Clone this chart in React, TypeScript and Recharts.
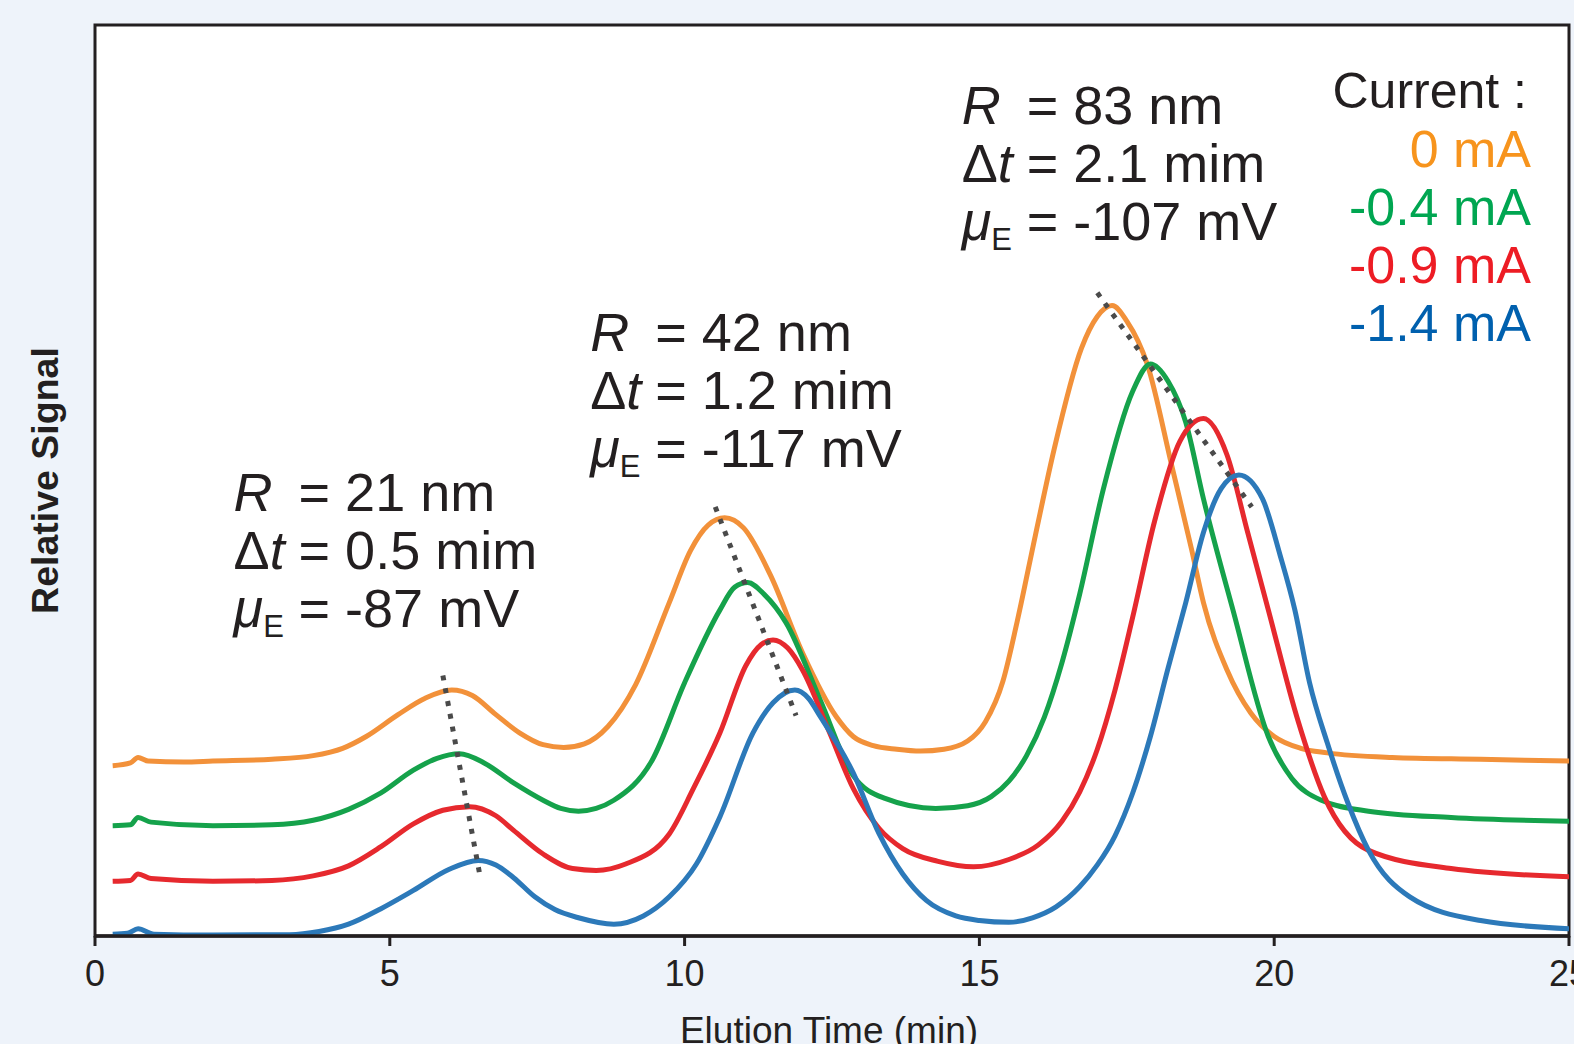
import { LineChart, Line, XAxis, YAxis, CartesianGrid, ReferenceLine, ReferenceArea, ReferenceDot, Legend } from 'recharts';

const FONT = '"Liberation Sans", Arial, Helvetica, sans-serif';
const INK = '#231f20';
const PAGE_BG = '#eef3fa';

// elution time (min), relative signal (0-100, offset traces as published)
const elutionTicks = [0, 5, 10, 15, 20, 25];

const trace0mA: [number, number][] = [
  [0.3, 18.7], [0.6, 19.0], [0.73, 19.6], [0.9, 19.2], [1.5, 19.1], [2.0, 19.2],
  [3.0, 19.4], [3.7, 19.8], [4.2, 20.6], [4.6, 21.9], [5.14, 24.3], [5.6, 26.1],
  [6.05, 27.0], [6.4, 26.4], [6.8, 24.3], [7.2, 22.3], [7.6, 21.0], [7.95, 20.7],
  [8.3, 21.1], [8.7, 23.0], [9.17, 27.6], [9.74, 36.6], [10.1, 42.3], [10.4, 45.1],
  [10.68, 45.9], [11.0, 44.8], [11.45, 39.7], [12.0, 31.1], [12.57, 24.1], [12.86, 21.9],
  [13.2, 20.9], [13.6, 20.5], [14.0, 20.3], [14.4, 20.5], [14.8, 21.4], [15.1, 23.5],
  [15.4, 28.0], [15.64, 34.5], [15.95, 44.0], [16.27, 53.5], [16.73, 64.5], [17.0, 68.0],
  [17.25, 69.2], [17.5, 67.5], [17.85, 62.7], [18.26, 51.7], [18.6, 42.4], [18.8, 36.6],
  [19.2, 29.2], [19.6, 24.5], [20.0, 21.9], [20.45, 20.6], [20.9, 20.1], [22.0, 19.6],
  [23.5, 19.4], [25.0, 19.2],
];

const traceM04mA: [number, number][] = [
  [0.3, 12.1], [0.6, 12.2], [0.73, 13.0], [0.95, 12.5], [2.0, 12.1], [3.0, 12.2],
  [3.7, 12.7], [4.3, 13.9], [4.85, 15.7], [5.4, 18.2], [5.8, 19.5], [6.18, 20.0],
  [6.6, 19.0], [7.1, 16.8], [7.6, 14.9], [7.9, 14.0], [8.2, 13.7], [8.5, 14.0],
  [8.8, 14.9], [9.45, 19.3], [10.0, 27.8], [10.6, 35.8], [10.85, 38.3], [11.07, 38.8],
  [11.35, 37.5], [11.72, 34.4], [12.3, 25.9], [12.86, 17.6], [13.4, 15.1], [14.26, 14.0],
  [14.8, 14.3], [15.2, 15.3], [15.5, 17.0], [15.8, 19.8], [16.1, 24.0], [16.4, 30.0],
  [16.7, 37.5], [17.1, 49.0], [17.6, 59.8], [17.9, 62.8], [18.2, 60.9], [18.5, 56.4],
  [18.8, 48.0], [19.3, 35.8], [19.9, 21.9], [20.3, 17.3], [20.8, 14.9], [21.6, 13.7],
  [23.0, 13.0], [25.0, 12.6],
];

const traceM09mA: [number, number][] = [
  [0.3, 6.0], [0.6, 6.1], [0.73, 6.8], [0.95, 6.3], [2.0, 6.0], [3.0, 6.1],
  [3.7, 6.6], [4.3, 7.7], [4.85, 9.8], [5.4, 12.3], [5.9, 13.8], [6.35, 14.2],
  [6.8, 13.2], [7.1, 11.6], [7.6, 9.0], [8.1, 7.4], [8.5, 7.2], [9.0, 7.9],
  [9.74, 11.2], [10.15, 16.2], [10.6, 22.3], [11.04, 29.7], [11.3, 32.0], [11.5, 32.5],
  [11.75, 31.6], [12.0, 29.2], [12.46, 22.3], [12.86, 16.2], [13.3, 11.8], [13.7, 9.6],
  [14.3, 8.2], [14.9, 7.6], [15.5, 8.4], [16.0, 10.0], [16.4, 12.6], [16.7, 15.8],
  [17.0, 20.5], [17.3, 27.0], [17.6, 35.0], [17.97, 45.5], [18.4, 54.3], [18.8, 56.8],
  [19.2, 52.8], [19.55, 44.3], [19.9, 35.8], [20.4, 23.7], [20.85, 15.3], [21.6, 9.4],
  [23.0, 7.4], [25.0, 6.5],
];

const traceM14mA: [number, number][] = [
  [0.3, 0.2], [0.55, 0.3], [0.73, 0.8], [1.0, 0.2], [2.0, 0.1], [3.3, 0.15],
  [3.8, 0.5], [4.3, 1.3], [4.85, 3.0], [5.4, 5.0], [6.0, 7.3], [6.5, 8.3],
  [6.8, 7.8], [7.1, 6.4], [7.46, 4.3], [7.8, 2.9], [8.2, 2.0], [8.8, 1.3],
  [9.3, 2.2], [9.74, 4.3], [10.2, 7.9], [10.6, 13.1], [11.16, 22.3], [11.5, 25.6],
  [11.87, 27.0], [12.1, 26.1], [12.3, 24.1], [12.86, 17.9], [13.3, 11.2], [13.7, 6.8],
  [14.1, 3.9], [14.6, 2.2], [15.0, 1.7], [15.5, 1.5], [15.9, 2.0], [16.3, 3.2],
  [16.7, 5.4], [17.0, 7.8], [17.3, 11.0], [17.6, 15.7], [17.9, 21.9], [18.2, 29.4],
  [18.5, 36.6], [18.8, 44.3], [19.1, 49.1], [19.4, 50.6], [19.8, 48.0], [20.1, 41.8],
  [20.35, 35.8], [20.6, 27.8], [20.9, 21.2], [21.25, 14.6], [21.6, 9.4], [22.3, 4.3],
  [23.5, 1.7], [25.0, 0.8],
];

const currentLabels = ['0 mA', '-0.4 mA', '-0.9 mA', '-1.4 mA'];

// peak-shift guide lines: [start, end] as [time, signal]
const peakShiftLines: [number, number][][] = [
  [[5.9, 28.6], [6.53, 6.6]],
  [[10.52, 47.1], [11.89, 24.2]],
  [[17.0, 70.6], [19.62, 47.1]],
];

const peakRadius = ['21 nm', '42 nm', '83 nm'];
const peakDeltaT = ['0.5 mim', '1.2 mim', '2.1 mim'];
const peakMobility = ['-87 mV', '-117 mV', '-107 mV'];

const noteAnchors: [number, number][] = [[2.35, 46.7], [8.4, 64.2], [14.7, 89.1]];

const traceColors = ['#f2913a', '#15a24b', '#e6292e', '#2c79b9'];
const labelColors = ['#f7941d', '#00a651', '#ed1c24', '#0060ae'];

const toRows = (pts: [number, number][]) => pts.map(([t, v]) => ({ t, v }));

const SERIES = [trace0mA, traceM04mA, traceM09mA, traceM14mA].map((pts, i) => ({
  name: currentLabels[i],
  rows: toRows(pts),
  stroke: traceColors[i],
  text: labelColors[i],
}));

function PeakNote({ viewBox, idx }: { viewBox?: any; idx: number }) {
  if (!viewBox) return null;
  const x = viewBox.x;
  const y = viewBox.y;
  const eqX = x + 65;
  const common = { fontFamily: FONT, fontSize: 54, fill: INK };
  return (
    <g>
      <text x={x} y={y} {...common}>
        <tspan fontStyle="italic">R</tspan>
        <tspan x={eqX}>= {peakRadius[idx]}</tspan>
      </text>
      <text x={x} y={y + 58} {...common}>
        <tspan>Δ</tspan>
        <tspan fontStyle="italic">t</tspan>
        <tspan x={eqX}>= {peakDeltaT[idx]}</tspan>
      </text>
      <text x={x} y={y + 116} {...common}>
        <tspan fontStyle="italic">μ</tspan>
        <tspan fontSize={31} dy={10}>E</tspan>
        <tspan x={eqX} dy={-10}>= {peakMobility[idx]}</tspan>
      </text>
    </g>
  );
}

function XTitle({ viewBox }: { viewBox?: any }) {
  if (!viewBox) return null;
  return (
    <text
      x={viewBox.x + viewBox.width / 2 - 3}
      y={viewBox.y + 107}
      textAnchor="middle"
      fontFamily={FONT}
      fontSize={37}
      fill={INK}
    >
      Elution Time (min)
    </text>
  );
}

function YTitle({ viewBox }: { viewBox?: any }) {
  if (!viewBox) return null;
  const cx = viewBox.x + viewBox.width - 37;
  const cy = viewBox.y + viewBox.height / 2;
  return (
    <text
      x={cx}
      y={cy}
      transform={`rotate(-90 ${cx} ${cy})`}
      textAnchor="middle"
      fontFamily={FONT}
      fontSize={37.5}
      fontWeight="bold"
      fill={INK}
    >
      Relative Signal
    </text>
  );
}

function CurrentLegend() {
  return (
    <div
      style={{
        fontFamily: FONT,
        fontSize: 52,
        lineHeight: '58px',
        textAlign: 'right',
        whiteSpace: 'nowrap',
      }}
    >
      <div style={{ color: INK, paddingRight: 4, fontSize: 50 }}>Current :</div>
      {SERIES.map((s) => (
        <div key={s.name} style={{ color: s.text }}>
          {s.name}
        </div>
      ))}
    </div>
  );
}

export default function App() {
  return (
    <div
      style={{
        position: 'absolute',
        left: 0,
        top: 0,
        width: 1574,
        height: 1044,
        overflow: 'hidden',
        background: PAGE_BG,
      }}
    >
      <LineChart
        width={1574}
        height={1044}
        margin={{ top: 25, right: 5, left: 94, bottom: 48 }}
      >
        <CartesianGrid horizontal={false} vertical={false} fill="#ffffff" />
        <XAxis
          dataKey="t"
          type="number"
          domain={[0, 25]}
          ticks={elutionTicks}
          interval={0}
          height={60}
          tickSize={10}
          tickMargin={14}
          tick={{ fill: INK, fontSize: 36, fontFamily: FONT }}
          axisLine={{ stroke: INK, strokeWidth: 3.5 }}
          tickLine={{ stroke: INK, strokeWidth: 3 }}
          allowDataOverflow
          label={<XTitle />}
        />
        <YAxis
          type="number"
          domain={[0, 100]}
          width={1}
          tick={false}
          tickLine={false}
          axisLine={false}
          allowDataOverflow
          label={<YTitle />}
        />
        <ReferenceArea
          x1={0}
          x2={25}
          y1={0}
          y2={100}
          fill="none"
          stroke={INK}
          strokeWidth={3}
          fillOpacity={0}
        />
        {SERIES.map((s) => (
          <Line
            key={s.name}
            data={s.rows}
            dataKey="v"
            name={s.name}
            type="monotone"
            stroke={s.stroke}
            strokeWidth={5}
            dot={false}
            activeDot={false}
            isAnimationActive={false}
          />
        ))}
        {peakShiftLines.map((seg, i) => (
          <ReferenceLine
            key={`shift-${i}`}
            segment={[
              { x: seg[0][0], y: seg[0][1] },
              { x: seg[1][0], y: seg[1][1] },
            ]}
            stroke="#4a4a4a"
            strokeWidth={5}
            strokeDasharray="5 8"
          />
        ))}
        {noteAnchors.map(([t, v], i) => (
          <ReferenceDot
            key={`note-${i}`}
            x={t}
            y={v}
            r={0}
            fill="none"
            stroke="none"
            label={<PeakNote idx={i} />}
          />
        ))}
        <Legend
          layout="horizontal"
          verticalAlign="middle"
          align="center"
          wrapperStyle={{ top: 62, right: 43, left: 'auto', width: 'auto' }}
          content={() => <CurrentLegend />}
        />
      </LineChart>
    </div>
  );
}
